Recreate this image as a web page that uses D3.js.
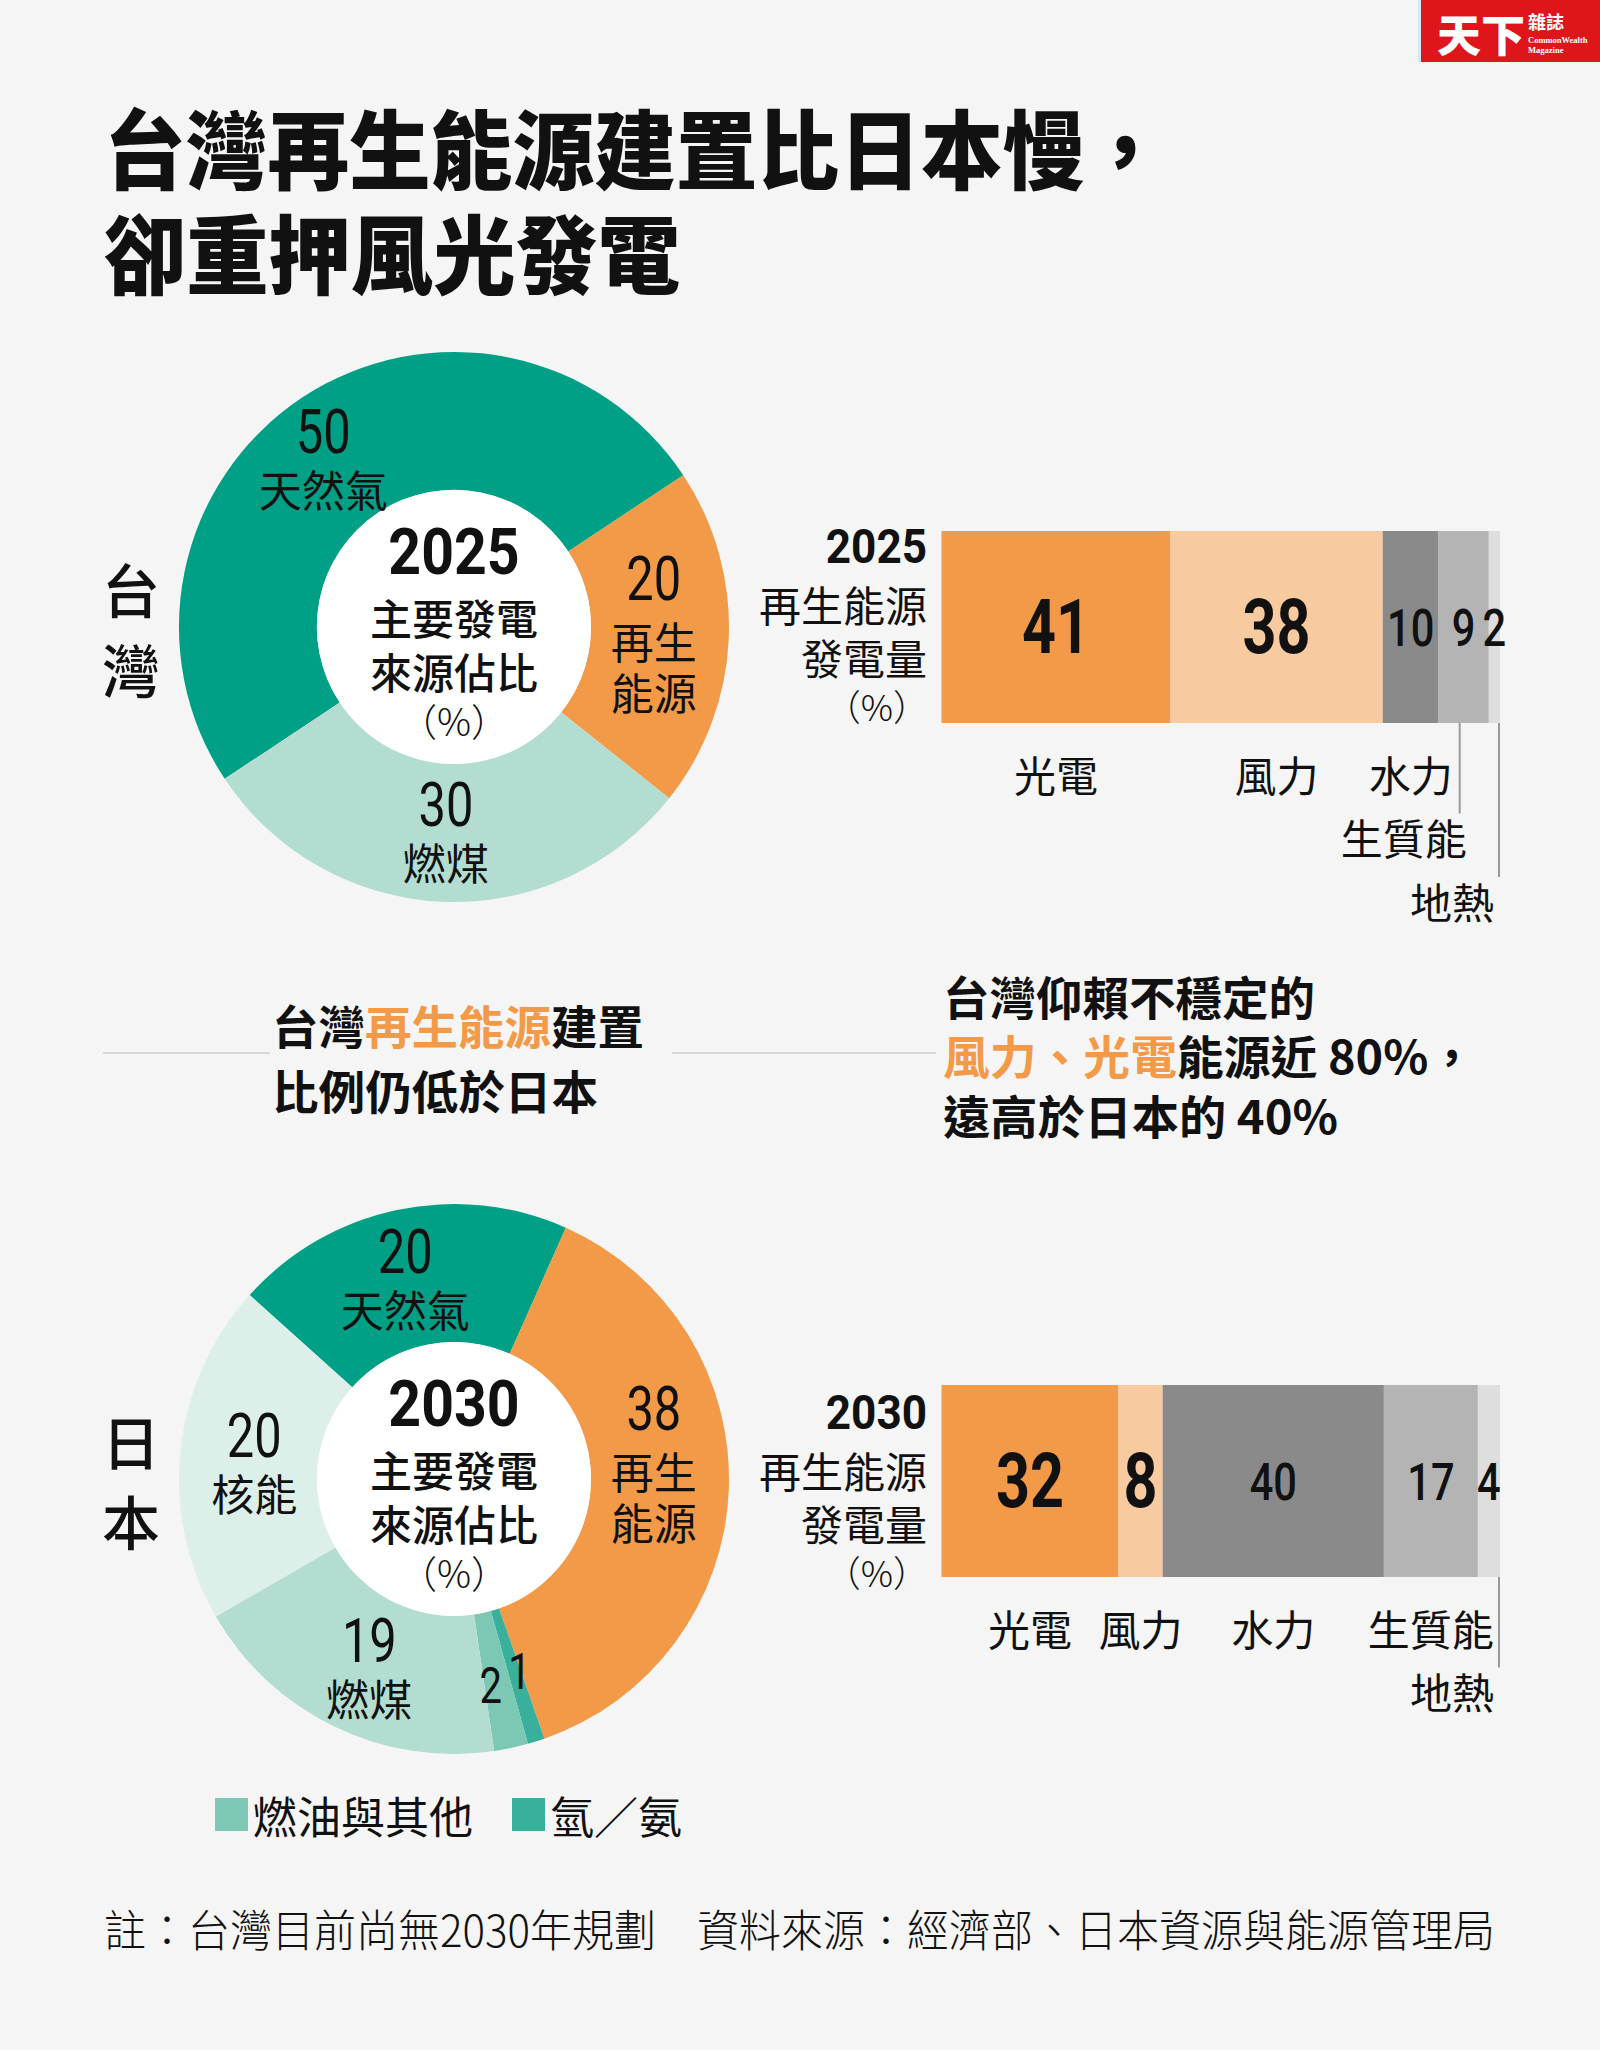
<!DOCTYPE html>
<html><head><meta charset="utf-8">
<script src="https://cdn.jsdelivr.net/npm/d3@7"></script>
<style>
html,body{margin:0;padding:0;background:#f5f5f5;}
svg{display:block;}
</style></head><body>
<svg id="chart" width="1600" height="2050"></svg>
<script>
// ---------------- data ----------------
const titleLines = ["台灣再生能源建置比日本慢，", "卻重押風光發電"];
const countryNames = ["台灣", "日本"];
const mixYears = ["2025", "2030"];
const twMixCats = ["天然氣", "再生能源", "燃煤"];
const twMixVals = [50, 20, 30];
const jpMixCats = ["天然氣", "再生能源", "氫／氨", "燃油與其他", "燃煤", "核能"];
const jpMixVals = [20, 38, 1, 2, 19, 20];
const reCats = ["光電", "風力", "水力", "生質能", "地熱"];
const twReVals = [41, 38, 10, 9, 2];
const jpReVals = [32, 8, 40, 17, 4];
const centerLines = ["主要發電", "來源佔比", "（%）"];
const barLabelLines = ["再生能源", "發電量", "（%）"];
const legendCats = ["燃油與其他", "氫／氨"];
const noteLeft = "註：台灣目前尚無2030年規劃";
const noteRight = "資料來源：經濟部、日本資源與能源管理局";

// ---------------- style ----------------
const CJK = '"Noto Sans CJK TC","Noto Sans CJK SC","Noto Sans CJK JP",sans-serif';
const NUM = 'Roboto,"Noto Sans",sans-serif';
const ORANGE = "#f29a48";
const mixColor = {"天然氣":"#00a087","再生能源":ORANGE,"燃煤":"#b2ddd0","核能":"#dcefe9","燃油與其他":"#7cc8b5","氫／氨":"#38b09c"};
const reColor = {"光電":ORANGE,"風力":"#f7caa0","水力":"#8a8a8a","生質能":"#b4b4b4","地熱":"#dedede"};

const svg = d3.select("#chart");
svg.append("rect").attr("width",1600).attr("height",2050).attr("fill","#f5f5f5");

function condense(sel, f){
  sel.each(function(){
    const L = this.getComputedTextLength();
    d3.select(this).attr("textLength", L*f).attr("lengthAdjust","spacingAndGlyphs");
  });
  return sel;
}
function fit(sel, w){ return sel.attr("textLength", w).attr("lengthAdjust","spacingAndGlyphs"); }
function txt(g, x, y, s, size, opts={}){
  const t = g.append("text").attr("x",x).attr("y",y)
    .attr("font-family", opts.family || CJK)
    .attr("font-size", size)
    .attr("font-weight", opts.weight || 400)
    .attr("fill", opts.fill || "#111")
    .attr("text-anchor", opts.anchor || "start")
    .attr("dominant-baseline","central")
    .text(s);
  return t;
}
// multi-line block: one <text>, one <tspan> per line
function block(g, anchor, lines, fill){
  const t = g.append("text").attr("text-anchor",anchor).attr("fill",fill||"#111")
    .attr("dominant-baseline","central");
  lines.forEach(l=>{
    const sp = t.append("tspan").attr("x",l.x).attr("y",l.y)
      .attr("dominant-baseline","central")
      .attr("font-family",l.family||CJK).attr("font-size",l.size)
      .attr("font-weight",l.weight||400).text(l.s);
    if (l.cond) condense(sp, l.cond);
  });
  return t;
}

// ---------------- logo ----------------
const logo = svg.append("g");
logo.append("rect").attr("x",1418).attr("y",0).attr("width",3).attr("height",62).attr("fill","#d3ebf6");
logo.append("rect").attr("x",1421).attr("y",0).attr("width",179).attr("height",62).attr("fill","#e0151c");
txt(logo,1437,33,"天下",44,{weight:900,fill:"#fff"});
block(logo,"start",[
  {x:1528,y:21,s:"雜誌",size:18,weight:700},
  {x:1528,y:40,s:"CommonWealth",size:8.5,weight:700,family:"'Liberation Serif',serif"},
  {x:1528,y:50,s:"Magazine",size:8.5,weight:700,family:"'Liberation Serif',serif"}
],"#fff");

// ---------------- title ----------------
const tg = svg.append("g");
fit(txt(tg,104,145,titleLines[0],86,{weight:900}),1062);
fit(txt(tg,104,250,titleLines[1],86,{weight:900}),576);

// ---------------- donuts ----------------
const R = 275, r0 = 137, rLab = 206;
function donut(cx, cy, cats, vals, startDeg, year, country, labelShift){
  const g = svg.append("g").attr("transform",`translate(${cx},${cy})`);
  const data = cats.map((c,i)=>({cat:c, v:vals[i]}));
  const a0 = startDeg*Math.PI/180;
  const pie = d3.pie().sort(null).value(d=>d.v).startAngle(a0).endAngle(a0+2*Math.PI);
  const arcs = pie(data);
  const arc = d3.arc().innerRadius(r0).outerRadius(R);
  const lab = d3.arc().innerRadius(rLab).outerRadius(rLab);
  g.selectAll("path.slice").data(arcs).join("path").attr("class","slice")
    .attr("d",arc).attr("fill",d=>mixColor[d.data.cat]);
  g.append("circle").attr("r",r0).attr("fill","#fff");
  // center
  block(g,"middle",[
    {x:0,y:-75,s:year,size:65,family:NUM,weight:700,cond:0.88},
    {x:0,y:-11,s:centerLines[0],size:42,weight:500},
    {x:0,y:43,s:centerLines[1],size:42,weight:500},
    {x:0,y:92,s:centerLines[2],size:38,weight:300}
  ]);
  // labels
  arcs.forEach(d=>{
    const [x0,y0] = lab.centroid(d);
    const sh = labelShift[d.data.cat] || [0,0];
    const x = x0 + sh[0], y = y0 + sh[1];
    const name = d.data.cat;
    if (d.data.v < 5){
      condense(txt(g,x,y,String(d.data.v),50,{family:NUM,weight:400,anchor:"middle"}),0.8);
      return;
    }
    const lines = name.length>=4 ? [name.slice(0,2), name.slice(2)] : [name];
    const numY = lines.length===1 ? y-28 : y-55;
    const spec = [{x, y:numY, s:String(d.data.v), size:61, family:NUM, weight:400, cond:0.8}];
    if (lines.length===1) spec.push({x, y:y+28, s:lines[0], size:43});
    else { spec.push({x, y:y+6, s:lines[0], size:43}); spec.push({x, y:y+57, s:lines[1], size:43}); }
    block(g,"middle",spec);
  });
  // side country label
  const side = svg.append("g");
  block(side,"start", country.split("").map((ch,i)=>({x:102,y:cy-39+i*80,s:ch,size:58,weight:500})));
}
donut(454, 627, twMixCats, twMixVals, -123.5, mixYears[0], countryNames[0],
  {"天然氣":[-17,5],"再生能源":[-6,-2],"燃煤":[1,0]});
donut(454, 1479, jpMixCats, jpMixVals, -48, mixYears[1], countryNames[1],
  {"天然氣":[-6,2],"再生能源":[-6,-24],"核能":[5,7],"燃煤":[5,5],"燃油與其他":[-6,6],"氫／氨":[4,-4]});

// ---------------- stacked bars ----------------
function stackBar(yTop, vals, year, labelDy){
  const h = 192, x0 = 941.5, x1 = 1500;
  const total = d3.sum(vals);
  const x = d3.scaleLinear().domain([0,total]).range([x0,x1]);
  const g = svg.append("g");
  let acc = 0;
  const segs = reCats.map((c,i)=>{ const s={cat:c,v:vals[i],a:acc,b:acc+vals[i],i}; acc+=vals[i]; return s; });
  g.selectAll("rect.seg").data(segs).join("rect").attr("class","seg")
    .attr("x",d=>x(d.a)).attr("y",yTop).attr("width",d=>x(d.b)-x(d.a)).attr("height",h)
    .attr("fill",d=>reColor[d.cat]);
  const cy = yTop + h/2;
  segs.forEach(d=>{
    const mx = (x(d.a)+x(d.b))/2;
    if (d.i < 2) condense(txt(g,mx,cy,String(d.v),76,{family:NUM,weight:700,anchor:"middle"}),0.78);
    else condense(txt(g,mx,cy+1,String(d.v),52,{family:NUM,weight:500,anchor:"middle"}),0.8);
  });
  // left label
  const lx = 927;
  block(g,"end",[
    {x:lx,y:cy-78+labelDy,s:year,size:49,family:NUM,weight:700,cond:0.9},
    {x:lx,y:cy-21+labelDy,s:barLabelLines[0],size:42},
    {x:lx,y:cy+32+labelDy,s:barLabelLines[1],size:42},
    {x:lx+2,y:cy+81+labelDy,s:barLabelLines[2],size:36,weight:300}
  ]);
  // category labels with row placement
  const rowY0 = yTop + h + 50, rowStep = 63.5;
  const rows = [];   // occupied intervals per row
  const last = segs.length - 1;
  segs.forEach(d=>{
    const mx = (x(d.a)+x(d.b))/2;
    const t = txt(g,mx,rowY0,d.cat,42,{anchor:"middle"});
    const w = t.node().getComputedTextLength();
    let left = mx - w/2, right = mx + w/2;
    const overlaps = (row,l,rr)=> (rows[row]||[]).some(iv=> l < iv[1]+8 && rr > iv[0]-8);
    let row = 0;
    if (overlaps(0,left,right)){
      row = 1;
      const lineX = d.i === last ? x1 - 1 : mx - 4;
      const endX = Math.min(lineX+7, x1-6);
      left = endX - w; right = endX;
      while (overlaps(row,left,right)) row++;
      t.attr("text-anchor","end").attr("x",endX).attr("y",rowY0+row*rowStep);
      g.append("line").attr("x1",lineX).attr("x2",lineX)
        .attr("y1",yTop+h).attr("y2",rowY0+row*rowStep-23)
        .attr("stroke","#9a9a9a").attr("stroke-width",2);
    }
    (rows[row] = rows[row]||[]).push([left,right]);
  });
}
stackBar(531, twReVals, mixYears[0], -3);
stackBar(1385, jpReVals, mixYears[1], 9);

// ---------------- middle annotations ----------------
const mid = svg.append("g");
mid.append("line").attr("x1",103).attr("x2",270).attr("y1",1053).attr("y2",1053).attr("stroke","#d8d8d8").attr("stroke-width",2);
mid.append("line").attr("x1",672).attr("x2",936).attr("y1",1053).attr("y2",1053).attr("stroke","#d8d8d8").attr("stroke-width",2);
function richBlock(g, x, rows, size){
  const t = g.append("text").attr("font-family",CJK).attr("font-size",size).attr("font-weight",700)
    .attr("dominant-baseline","central").attr("fill","#111");
  rows.forEach(rw=>{
    const line = t.append("tspan").attr("x",x).attr("y",rw.y).attr("dominant-baseline","central")
      .attr("textLength",rw.w).attr("lengthAdjust","spacingAndGlyphs");
    rw.parts.forEach(p=> line.append("tspan").attr("fill",p[1]?ORANGE:"#111").text(p[0]));
  });
  return t;
}
richBlock(mid,272,[
  {y:1024,w:372,parts:[["台灣",0],["再生能源",1],["建置",0]]},
  {y:1089,w:326,parts:[["比例仍低於日本",0]]}
],46);
richBlock(mid,943,[
  {y:995,w:372,parts:[["台灣仰賴不穩定的",0]]},
  {y:1054,w:532,parts:[["風力、光電",1],["能源近 80%，",0]]},
  {y:1114,w:395,parts:[["遠高於日本的 40%",0]]}
],46);

// ---------------- legend ----------------
const lg = svg.append("g");
const legX = [215, 512];
legendCats.forEach((c,i)=>{
  lg.append("rect").attr("x",legX[i]).attr("y",1798).attr("width",33).attr("height",33).attr("fill",mixColor[c]);
  txt(lg,legX[i]+38,1815,c,44);
});

// ---------------- note ----------------
const ng = svg.append("g");
fit(txt(ng,104,1928,noteLeft,44,{weight:300}),552);
fit(txt(ng,697,1928,noteRight,44,{weight:300}),798);
</script>
</body></html>
